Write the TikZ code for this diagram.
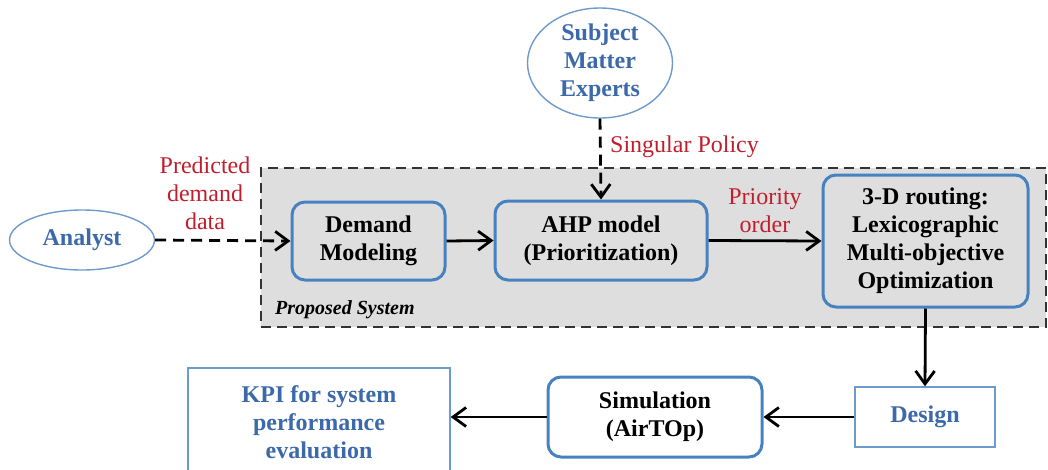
\documentclass[tikz,border=0pt]{standalone}
\usepackage{fontspec}
\setmainfont{Liberation Serif}
\usetikzlibrary{arrows.meta,shapes.geometric}

\definecolor{boxblue}{RGB}{70,130,192}
\definecolor{thinblue}{RGB}{110,155,205}
\definecolor{txtblue}{RGB}{60,105,170}
\definecolor{lblred}{RGB}{192,30,45}
\definecolor{sysgray}{RGB}{222,222,222}

\tikzset{
  base/.style={font=\fontsize{24}{28}\selectfont, align=center, inner sep=0pt},
  procbox/.style={base, font=\fontsize{24}{28}\selectfont\bfseries, draw=boxblue, line width=3pt,
    rounded corners=13pt, fill=sysgray},
  plainbox/.style={base, font=\fontsize{24}{28}\selectfont\bfseries, text=txtblue,
    draw=thinblue, line width=1.4pt, fill=white},
  actor/.style={base, font=\fontsize{24}{28}\selectfont\bfseries, text=txtblue,
    ellipse, draw=thinblue, line width=1.4pt, fill=white},
  flowlbl/.style={base, text=lblred},
  link/.style={line width=2.8pt, -{Straight Barb[length=13pt,width=19pt,line width=2.8pt]}},
  dlink/.style={link, dash pattern=on 11pt off 7pt},
  sysframe/.style={draw=black!80, line width=2pt, dash pattern=on 10pt off 6pt, fill=sysgray}
}

\begin{document}
\begin{tikzpicture}[x=1pt,y=-1pt]
  \useasboundingbox (0,0) rectangle (1048,469);
  \clip (0,0) rectangle (1048,469);

  % proposed system frame
  \node[sysframe, minimum width=785pt, minimum height=159pt, inner sep=0pt] (system) at (653.5,247.5) {};
  \node[base, anchor=west, font=\fontsize{20}{24}\selectfont\bfseries\itshape] (systitle) at (275,310) {Proposed System};

  % external actors
  \node[actor, minimum width=145pt, minimum height=60pt] (analyst) at (82,240) {Analyst};
  \node[actor, minimum width=145pt, minimum height=110pt] (sme) at (600,63) {Subject\\Matter\\Experts};

  % process steps inside the system
  \node[procbox, minimum width=153pt, minimum height=78pt] (demand) at (368.5,241) {Demand\\Modeling};
  \node[procbox, minimum width=212pt, minimum height=79pt] (ahp) at (601,240.5) {AHP model\\(Prioritization)};
  \node[procbox, minimum width=205pt, minimum height=132pt] (route) at (925.5,241) {3-D routing:\\Lexicographic\\Multi-objective\\Optimization};

  % downstream steps
  \node[plainbox, minimum width=140pt, minimum height=60pt] (design) at (925,417) {Design};
  \node[procbox, fill=white, minimum width=214pt, minimum height=80pt] (sim) at (655,417) {Simulation\\(AirTOp)};
  \node[plainbox, minimum width=262pt, minimum height=108pt] (kpi) at (319,422) {KPI for system\\performance\\evaluation};

  % flow labels
  \node[flowlbl] (predlbl) at (205,193) {Predicted\\demand\\data};
  \node[flowlbl, anchor=west] (policylbl) at (610,147) {Singular Policy};
  \node[flowlbl] (prioritylbl) at (765,211) {Priority\\order};

  % connectors
  \draw[dlink] (analyst.east) -- (demand.west);
  \draw[dlink] (sme.south) -- (ahp.north);
  \draw[link] (demand.east) -- (ahp.west);
  \draw[link] (ahp.east) -- (route.west);
  \draw[link] (route.south) -- (design.north);
  \draw[link] (design.west) -- (sim.east);
  \draw[link] (sim.west) -- (kpi.east |- sim.west);
\end{tikzpicture}
\end{document}
